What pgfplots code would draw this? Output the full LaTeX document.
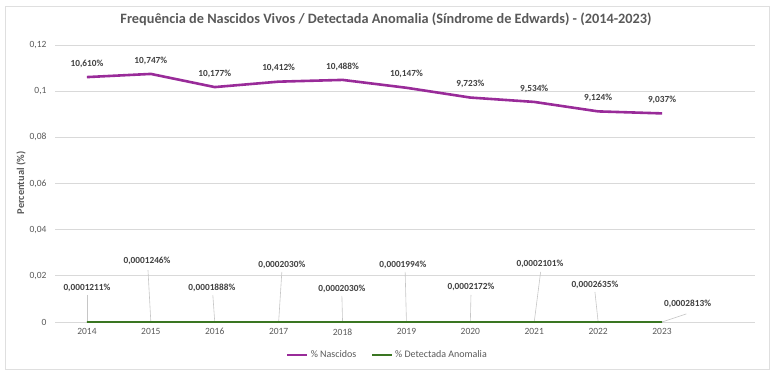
\documentclass[border=0pt]{standalone}
\usepackage{pgfplots}
\pgfplotsset{compat=1.18}
\usepackage{fontspec}
\setmainfont{Carlito}
\definecolor{txtgray}{RGB}{89,89,89}
\definecolor{labgray}{RGB}{64,64,64}
\definecolor{gridgray}{RGB}{217,217,217}
\definecolor{lpurple}{RGB}{153,43,153}
\definecolor{lgreen}{RGB}{58,118,34}
\begin{document}
\begin{tikzpicture}[x=1pt,y=1pt]
\path[use as bounding box] (0,0) rectangle (776,376);
\draw[gray!25,line width=0.8pt] (5,7) rectangle (769,370);
\node[font=\fontsize{14.3}{16}\selectfont\bfseries,text=txtgray] at (386,357) {Frequência de Nascidos Vivos / Detectada Anomalia (Síndrome de Edwards) - (2014-2023)};
\node[font=\fontsize{10.4}{12}\selectfont\bfseries,text=txtgray,rotate=90] at (21,193) {Percentual (\%)};
\begin{axis}[
  at={(55pt,54pt)}, anchor=south west,
  scale only axis, width=700pt, height=277pt,
  xmin=-0.5, xmax=10.455, ymin=0, ymax=0.12,
  axis line style={draw=none},
  xtick={0,...,9},
  xticklabels={2014,2015,2016,2017,2018,2019,2020,2021,2022,2023},
  ytick={0,0.02,0.04,0.06,0.08,0.1,0.12},
  major tick length=0pt,
  ymajorgrids, grid style={gridgray,line width=0.7pt},
  /pgf/number format/.cd, use comma, fixed, precision=2, assume math mode=true,
  /pgfplots/.cd,
  tick label style={font=\fontsize{9.5}{10}\selectfont,text=txtgray},
  yticklabel style={xshift=-5pt},
  xticklabel style={yshift=-3pt},
  clip=false,
  legend style={at={(axis description cs:0.475,-0.119)}, anchor=center, draw=none, fill=none,
    legend columns=2, font=\fontsize{10}{11}\selectfont, text=txtgray, inner sep=0pt,
    /tikz/every even column/.append style={column sep=13pt}},
  legend image code/.code={\draw[#1] (0pt,0pt) -- (20pt,0pt);},
]
\addplot[lpurple, line width=2.6pt, line join=round,
  nodes near coords, point meta=explicit symbolic,
  every node near coord/.append style={font=\fontsize{9.3}{10}\selectfont\bfseries, text=labgray, yshift=5pt}]
  coordinates {
  (0,0.10610)[10,610\%] (1,0.10747)[10,747\%] (2,0.10177)[10,177\%] (3,0.10412)[10,412\%]
  (4,0.10488)[10,488\%] (5,0.10147)[10,147\%] (6,0.09723)[9,723\%] (7,0.09534)[9,534\%]
  (8,0.09124)[9,124\%] (9,0.09037)[9,037\%]};
\addlegendentry{\% Nascidos}
% leader lines
\draw[gray!45, line width=0.6pt] (axis cs:0,0.0117) -- (axis cs:0,0);
\draw[gray!45, line width=0.6pt] (axis cs:0.955,0.0225) -- (axis cs:1,0);
\draw[gray!45, line width=0.6pt] (axis cs:1.97,0.0117) -- (axis cs:2,0);
\draw[gray!45, line width=0.6pt] (axis cs:3.05,0.0217) -- (axis cs:3,0);
\draw[gray!45, line width=0.6pt] (axis cs:3.99,0.0113) -- (axis cs:4,0);
\draw[gray!45, line width=0.6pt] (axis cs:4.98,0.0217) -- (axis cs:5,0);
\draw[gray!45, line width=0.6pt] (axis cs:6.01,0.0117) -- (axis cs:6,0);
\draw[gray!45, line width=0.6pt] (axis cs:7.1,0.0217) -- (axis cs:7,0);
\draw[gray!45, line width=0.6pt] (axis cs:7.95,0.0130) -- (axis cs:8,0);
\draw[gray!45, line width=0.6pt] (axis cs:9.38,0.0035) -- (axis cs:9,0);
\addplot[lgreen, line width=1.8pt] coordinates {
  (0,0.000001211) (1,0.000001246) (2,0.000001888) (3,0.000002030) (4,0.000002030)
  (5,0.000001994) (6,0.000002172) (7,0.000002101) (8,0.000002635) (9,0.000002813)};
\addlegendentry{\% Detectada Anomalia}
\begin{scope}[every node/.style={font=\fontsize{9.3}{10}\selectfont\bfseries, text=labgray}]
\node at (axis cs:0,0.01473) {0,0001211\%};
\node at (axis cs:0.94,0.02643) {0,0001246\%};
\node at (axis cs:1.956,0.01473) {0,0001888\%};
\node at (axis cs:3.05,0.0247) {0,0002030\%};
\node at (axis cs:3.99,0.0143) {0,0002030\%};
\node at (axis cs:4.945,0.0247) {0,0001994\%};
\node at (axis cs:6.01,0.01516) {0,0002172\%};
\node at (axis cs:7.09,0.0251) {0,0002101\%};
\node at (axis cs:7.95,0.0160) {0,0002635\%};
\node at (axis cs:9.4,0.0078) {0,0002813\%};
\end{scope}
\end{axis}
\end{tikzpicture}
\end{document}
